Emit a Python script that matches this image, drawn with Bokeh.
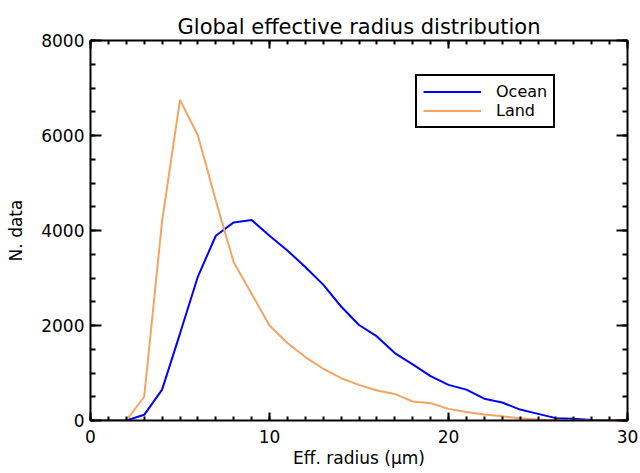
from bokeh.plotting import figure
from bokeh.models import Range1d, FixedTicker, LinearAxis, Legend, LegendItem
from bokeh.embed import file_html
from bokeh.resources import INLINE

# ---- data ----
radius = list(range(0, 31))
ocean = [0, 0, 0, 120, 650, 1830, 3030, 3890, 4170, 4220, 3890, 3580, 3230, 2860,
         2400, 2010, 1770, 1420, 1180, 935, 750, 650, 460, 380, 230, 140, 50, 35, 10, 0, 0]
land = [0, 0, 0, 500, 4200, 6750, 6000, 4630, 3330, 2670, 2000, 1630, 1335, 1090,
        890, 750, 630, 560, 400, 365, 245, 180, 125, 90, 45, 20, 0, 0, 0, 0, 0]
x_major = [0, 10, 20, 30]
x_minor = list(range(0, 31))
y_major = [0, 2000, 4000, 6000, 8000]
y_minor = list(range(0, 8001, 500))

FONT = "DejaVu Sans"

p = figure(width=640, height=473, output_backend="svg", toolbar_location=None,
           x_range=Range1d(0, 30), y_range=Range1d(0, 8000),
           x_axis_location=None, y_axis_location=None,
           min_border_left=90, min_border_right=13, min_border_top=40, min_border_bottom=53)
p.background_fill_color = "white"
p.border_fill_color = "white"
p.outline_line_color = None
p.xgrid.visible = False
p.ygrid.visible = False

p.title.text = "Global effective radius distribution"
p.title.align = "center"
p.title.text_font = FONT
p.title.text_font_size = "21px"
p.title.text_font_style = "normal"
p.title.text_color = "black"
p.title.standoff = 4


def style(ax, major_in, minor_in, labels):
    ax.axis_line_color = "black"
    ax.axis_line_width = 2
    ax.major_tick_line_color = "black"
    ax.major_tick_line_width = 2
    ax.minor_tick_line_color = "black"
    ax.minor_tick_line_width = 2
    ax.major_tick_in = major_in
    ax.major_tick_out = 0
    ax.minor_tick_in = minor_in
    ax.minor_tick_out = 0
    ax.major_label_text_font = FONT
    ax.major_label_text_color = "black"
    ax.axis_label_text_font = FONT
    ax.axis_label_text_font_style = "normal"
    ax.axis_label_text_color = "black"
    if labels:
        ax.major_label_text_font_size = "17px"
        ax.axis_label_text_font_size = "17px"
    else:
        ax.major_label_text_font_size = "0px"
        ax.major_label_standoff = 0
        ax.major_label_text_color = None


xt = FixedTicker(ticks=x_major, minor_ticks=x_minor)
yt = FixedTicker(ticks=y_major, minor_ticks=y_minor)

xb = LinearAxis(ticker=xt, axis_label="Eff. radius (μm)")
style(xb, 8, 4, True)
xb.major_label_standoff = 9
xb.axis_label_standoff = 2
xa = LinearAxis(ticker=xt)
style(xa, 8, 4, False)

yl = LinearAxis(ticker=yt, axis_label="N. data")
style(yl, 11, 5, True)
yl.major_label_standoff = 6
yl.axis_label_standoff = 12
yr = LinearAxis(ticker=yt)
style(yr, 11, 5, False)

p.add_layout(xb, "below")
p.add_layout(xa, "above")
p.add_layout(yl, "left")
p.add_layout(yr, "right")

r_ocean = p.line(radius, ocean, line_color="#0000FF", line_width=2)
r_land = p.line(radius, land, line_color="#F4A460", line_width=2)

legend = Legend(items=[LegendItem(label="Ocean", renderers=[r_ocean]),
                       LegendItem(label="Land", renderers=[r_land])],
                location=(325, 292))
legend.border_line_color = "black"
legend.border_line_alpha = 1
legend.border_line_width = 2
legend.background_fill_color = "white"
legend.background_fill_alpha = 1
legend.label_text_font = FONT
legend.label_text_font_size = "16px"
legend.label_text_color = "black"
legend.padding = 6
legend.spacing = 0
legend.margin = 0
legend.glyph_width = 58
legend.glyph_height = 17
legend.label_height = 17
legend.label_standoff = 15
p.add_layout(legend, "center")

open("out.html", "w").write(file_html(p, INLINE))
